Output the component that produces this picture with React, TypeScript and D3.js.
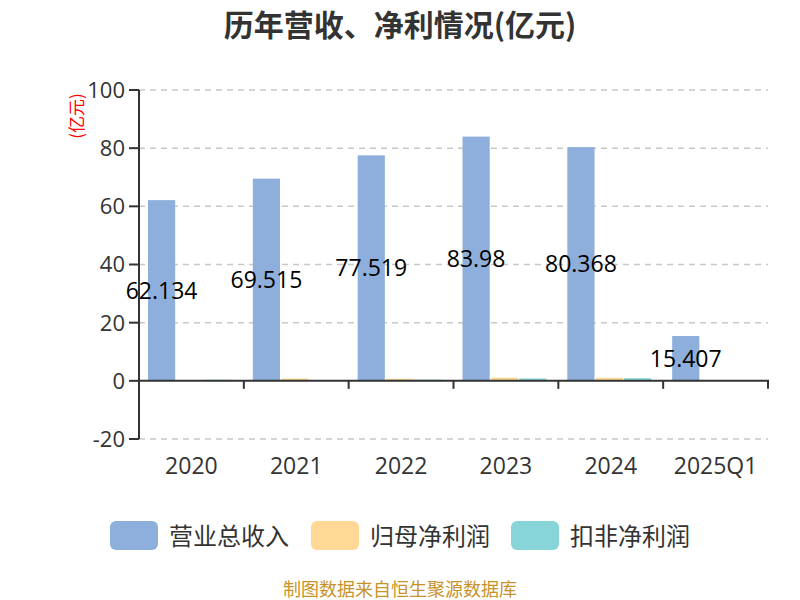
import React from "react";
import * as d3 from "d3";

const categories = ["2020", "2021", "2022", "2023", "2024", "2025Q1"];
const seriesNames = ["营业总收入", "归母净利润", "扣非净利润"];
const revenue = [62.134, 69.515, 77.519, 83.98, 80.368, 15.407];
const netProfit = [0.08, 0.8, 0.7, 1.1, 1.05, 0.1];
const deductedProfit = [0.35, 0.1, 0.4, 0.8, 0.9, 0.05];
const yTicks = [-20, 0, 20, 40, 60, 80, 100];
const colors = ["#8eaedb", "#fed894", "#87d4d9"];

const W = 800;
const H = 600;
const left = 139;
const right = 768;
const top = 90;
const bottom = 439;
const FONT = "'Noto Sans CJK SC', 'Noto Sans', sans-serif";
const NUM = "'Open Sans', 'Noto Sans', sans-serif";

export default function App() {
  const x = d3.scaleBand<string>().domain(categories).range([left, right]);
  const y = d3.scaleLinear().domain([-20, 100]).range([bottom, top]);
  const inner = d3
    .scaleBand<number>()
    .domain([0, 1, 2])
    .range([9, x.bandwidth() - 12])
    .paddingInner(0.04);
  const series = [revenue, netProfit, deductedProfit];

  return (
    <svg width={W} height={H} style={{ position: "absolute", left: 0, top: 0 }}>
      <rect width={W} height={H} fill="#fff" />
      <text x={400} y={36} textAnchor="middle" fontSize={30} fontWeight="bold" fill="#333" fontFamily={FONT}>
        历年营收、净利情况(亿元)
      </text>
      {yTicks.map((t) =>
        t === 0 ? null : (
          <line key={"g" + t} x1={left} x2={right} y1={y(t)} y2={y(t)} stroke="#c8c8c8" strokeWidth={1.5} strokeDasharray="6,5" />
        )
      )}
      {series.map((vals, si) =>
        vals.map((v, ci) => {
          const bx = (x(categories[ci]) as number) + (inner(si) as number);
          const y0 = y(0);
          const y1 = y(v);
          return (
            <rect
              key={si + "-" + ci}
              x={bx}
              y={Math.min(y0, y1)}
              width={inner.bandwidth()}
              height={Math.abs(y1 - y0)}
              fill={colors[si]}
            />
          );
        })
      )}
      {/* y axis */}
      <line x1={left} x2={left} y1={top} y2={bottom} stroke="#333" strokeWidth={2} />
      {yTicks.map((t) => (
        <g key={"t" + t}>
          <line x1={left - 10} x2={left} y1={y(t)} y2={y(t)} stroke="#333" strokeWidth={2} />
          <text x={left - 14} y={y(t)} dy="0.36em" textAnchor="end" fontSize={22} fill="#333" fontFamily={NUM}>
            {t}
          </text>
        </g>
      ))}
      <text
        transform={`translate(${77},${116}) rotate(-90)`}
        textAnchor="middle"
        dy="0.35em"
        fontSize={17}
        fill="#ff0000"
        fontFamily={FONT}
      >
        (亿元)
      </text>
      {/* x axis at zero */}
      <line x1={left} x2={right + 1} y1={y(0)} y2={y(0)} stroke="#333" strokeWidth={2} />
      {categories.map((c) => (
        <line
          key={"xt" + c}
          x1={x(c) as number}
          x2={x(c) as number}
          y1={y(0)}
          y2={y(0) + 8}
          stroke="#333"
          strokeWidth={2}
        />
      ))}
      <line x1={right} x2={right} y1={y(0)} y2={y(0) + 8} stroke="#333" strokeWidth={2} />
      {categories.map((c) => (
        <text
          key={"xl" + c}
          x={(x(c) as number) + x.bandwidth() / 2}
          y={466}
          dy="0.36em"
          textAnchor="middle"
          fontSize={23}
          fill="#333"
          fontFamily={NUM}
        >
          {c}
        </text>
      ))}
      {/* value labels for revenue */}
      {revenue.map((v, ci) => {
        const cx = (x(categories[ci]) as number) + (inner(0) as number) + inner.bandwidth() / 2;
        const cy = (y(0) + y(v)) / 2;
        return (
          <text key={"vl" + ci} x={cx} y={cy} dy="0.36em" textAnchor="middle" fontSize={23} fill="#000" fontFamily={NUM}>
            {v}
          </text>
        );
      })}
      {/* legend */}
      {seriesNames.map((n, i) => {
        const lx = [110, 311, 511][i];
        return (
          <g key={"lg" + n}>
            <rect x={lx} y={521} width={48} height={29} rx={6} fill={colors[i]} />
            <text x={lx + 59} y={536} dy="0.36em" fontSize={24} fill="#333" fontFamily={FONT}>
              {n}
            </text>
          </g>
        );
      })}
      <text x={400} y={590} dy="0.35em" textAnchor="middle" fontSize={18} fill="#c8922a" fontFamily={FONT}>
        制图数据来自恒生聚源数据库
      </text>
    </svg>
  );
}
